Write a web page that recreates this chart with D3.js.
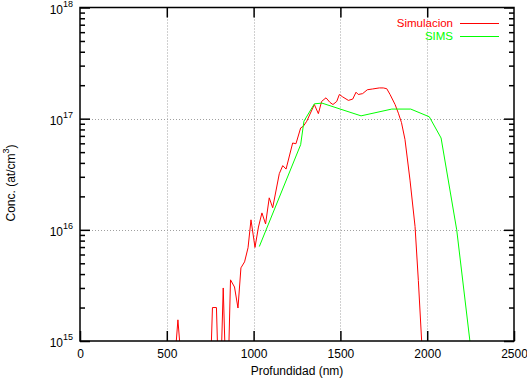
<!DOCTYPE html>
<html><head><meta charset="utf-8">
<script src="https://cdn.jsdelivr.net/npm/d3@7"></script>
<style>body{margin:0;background:#fff} text{font-family:"Liberation Sans",Arial,Helvetica,sans-serif;fill:#000}</style>
</head><body><svg id="c" width="527" height="379"></svg>
<script>
// ---- data ----
const xTicks = [0, 500, 1000, 1500, 2000, 2500];
const yExponents = [15, 16, 17, 18];
const seriesNames = ["Simulacion", "SIMS"];
const seriesColors = ["#ff0000", "#00ff00"];
const xLabel = "Profundidad (nm)";

// Simulacion (values below 1e15 fall outside the plot)
const simDepth = [544, 564, 585, 743, 763, 786, 804, 825, 847, 867, 890, 910, 927, 948, 968, 985, 1008, 1028, 1048, 1069, 1090, 1110, 1148, 1168, 1187, 1225, 1244, 1271, 1286, 1306, 1350, 1373, 1392, 1417, 1440, 1457, 1479, 1494, 1513, 1546, 1571, 1590, 1603, 1628, 1655, 1686, 1724, 1747, 1767, 1786, 1815, 1834, 1852, 1872, 1901, 1930, 1949, 1968, 1985];
const simConc = [6e14, 1.55e15, 6e14, 2e14, 2.0e15, 2.0e15, 2e14, 3.0e15, 2e14, 3.55e15, 3.06e15, 1.98e15, 4.55e15, 5.15e15, 6.9e15, 1.23e16, 6.95e15, 1.06e16, 1.42e16, 1.13e16, 1.94e16, 1.58e16, 3.2e16, 3.78e16, 3.52e16, 6.04e16, 5.95e16, 8.25e16, 8.53e16, 9.47e16, 1.34e17, 1.11e17, 1.43e17, 1.54e17, 1.40e17, 1.34e17, 1.43e17, 1.65e17, 1.57e17, 1.46e17, 1.50e17, 1.73e17, 1.65e17, 1.68e17, 1.82e17, 1.85e17, 1.89e17, 1.89e17, 1.86e17, 1.65e17, 1.34e17, 1.12e17, 9.2e16, 6.5e16, 2.8e16, 1.07e16, 3.5e15, 1e15, 1e14];

// SIMS
const simsDepth = [1033, 1271, 1290, 1350, 1394, 1619, 1796, 1905, 2012, 2080, 2170, 2246, 2260];
const simsConc = [7.08e15, 5.83e16, 9.5e16, 1.36e17, 1.38e17, 1.06e17, 1.22e17, 1.22e17, 1.04e17, 6.7e16, 1.0e16, 1.0e15, 7e14];

// ---- layout ----
const L = 80, R = 514, T = 7.5, B = 341;
const svg = d3.select("#c");
const x = d3.scaleLinear().domain([0, 2500]).range([L, R]);
const y = d3.scaleLog().domain([1e15, 1e18]).range([B, T]);

// grid
const grid = svg.append("g").attr("stroke", "#a0a0a0").attr("stroke-width", 1).attr("stroke-dasharray", "1,2");
xTicks.filter(t => t > 0 && t < 2500).forEach(t => {
  grid.append("line").attr("x1", Math.round(x(t)) + 0.5).attr("x2", Math.round(x(t)) + 0.5).attr("y1", T).attr("y2", B);
});
yExponents.filter(e => e > 15 && e < 18).forEach(e => {
  grid.append("line").attr("x1", L).attr("x2", R).attr("y1", Math.round(y(Math.pow(10, e))) + 0.5).attr("y2", Math.round(y(Math.pow(10, e))) + 0.5);
});

// clip
svg.append("clipPath").attr("id", "clip").append("rect").attr("x", L).attr("y", T).attr("width", R - L).attr("height", B - T);

const line = d3.line().x(d => x(d[0])).y(d => y(d[1]));
const series = [d3.zip(simDepth, simConc), d3.zip(simsDepth, simsConc)];
series.forEach((s, i) => {
  svg.append("path").attr("clip-path", "url(#clip)").attr("d", line(s))
    .attr("fill", "none").attr("stroke", seriesColors[i]).attr("stroke-width", 1);
});

// axes using d3 axis generators, styled like gnuplot
const axBottom = d3.axisBottom(x).tickValues(xTicks).tickSizeInner(-10).tickSizeOuter(0).tickPadding(14).tickFormat(d3.format("d"));
const gB = svg.append("g").attr("transform", `translate(0,${B})`).call(axBottom);
gB.select(".domain").remove();
gB.selectAll("text").attr("font-size", 12).attr("font-family", "Liberation Sans, Arial, sans-serif").attr("fill", "#000").attr("dy", "0");
gB.selectAll("text").attr("y", 17);
const axTop = d3.axisTop(x).tickValues(xTicks.filter(t => t > 0 && t < 2500)).tickSizeInner(-10).tickSizeOuter(0).tickFormat("");
const gT = svg.append("g").attr("transform", `translate(0,${T})`).call(axTop);
gT.select(".domain").remove();

const minorVals = [];
for (let e = 15; e < 18; e++) for (let m = 2; m <= 9; m++) minorVals.push(m * Math.pow(10, e));
const majorVals = yExponents.map(e => Math.pow(10, e));
[[d3.axisLeft, L], [d3.axisRight, R]].forEach(([fn, px]) => {
  const gMaj = svg.append("g").attr("transform", `translate(${px},0)`).call(fn(y).tickValues(majorVals).tickSizeInner(-10).tickSizeOuter(0).tickFormat(""));
  gMaj.select(".domain").remove();
  const gMin = svg.append("g").attr("transform", `translate(${px},0)`).call(fn(y).tickValues(minorVals).tickSizeInner(-5).tickSizeOuter(0).tickFormat(""));
  gMin.select(".domain").remove();
});
svg.selectAll(".tick line").attr("stroke", "#000").attr("stroke-width", 1.5);

// y tick labels: 10^n
yExponents.forEach(e => {
  const t = svg.append("text").attr("x", 73).attr("y", y(Math.pow(10, e)) + 6).attr("text-anchor", "end").attr("font-size", 12);
  t.append("tspan").text("10");
  t.append("tspan").attr("font-size", 9).attr("dy", -7).text(String(e));
});

// border
svg.append("rect").attr("x", L).attr("y", T).attr("width", R - L).attr("height", B - T)
  .attr("fill", "none").attr("stroke", "#000").attr("stroke-width", 1.5);

// axis titles
svg.append("text").attr("x", (L + R) / 2).attr("y", 375).attr("text-anchor", "middle").attr("font-size", 12).text(xLabel);
const yt = svg.append("text").attr("transform", "translate(15,183) rotate(-90)").attr("text-anchor", "middle").attr("font-size", 12);
yt.append("tspan").text("Conc. (at/cm");
yt.append("tspan").attr("font-size", 9).attr("dy", -6).text("3");
yt.append("tspan").attr("dy", 6).text(")");

// legend
seriesNames.forEach((n, i) => {
  const ly = 23 + i * 12.5;
  svg.append("text").attr("x", 453).attr("y", ly + 4).attr("text-anchor", "end").attr("font-size", 11.5).style("fill", seriesColors[i]).text(n);
  svg.append("line").attr("x1", 460).attr("x2", 499).attr("y1", Math.round(ly) + 0.5).attr("y2", Math.round(ly) + 0.5).attr("stroke", seriesColors[i]).attr("stroke-width", 1);
});
</script></body></html>
